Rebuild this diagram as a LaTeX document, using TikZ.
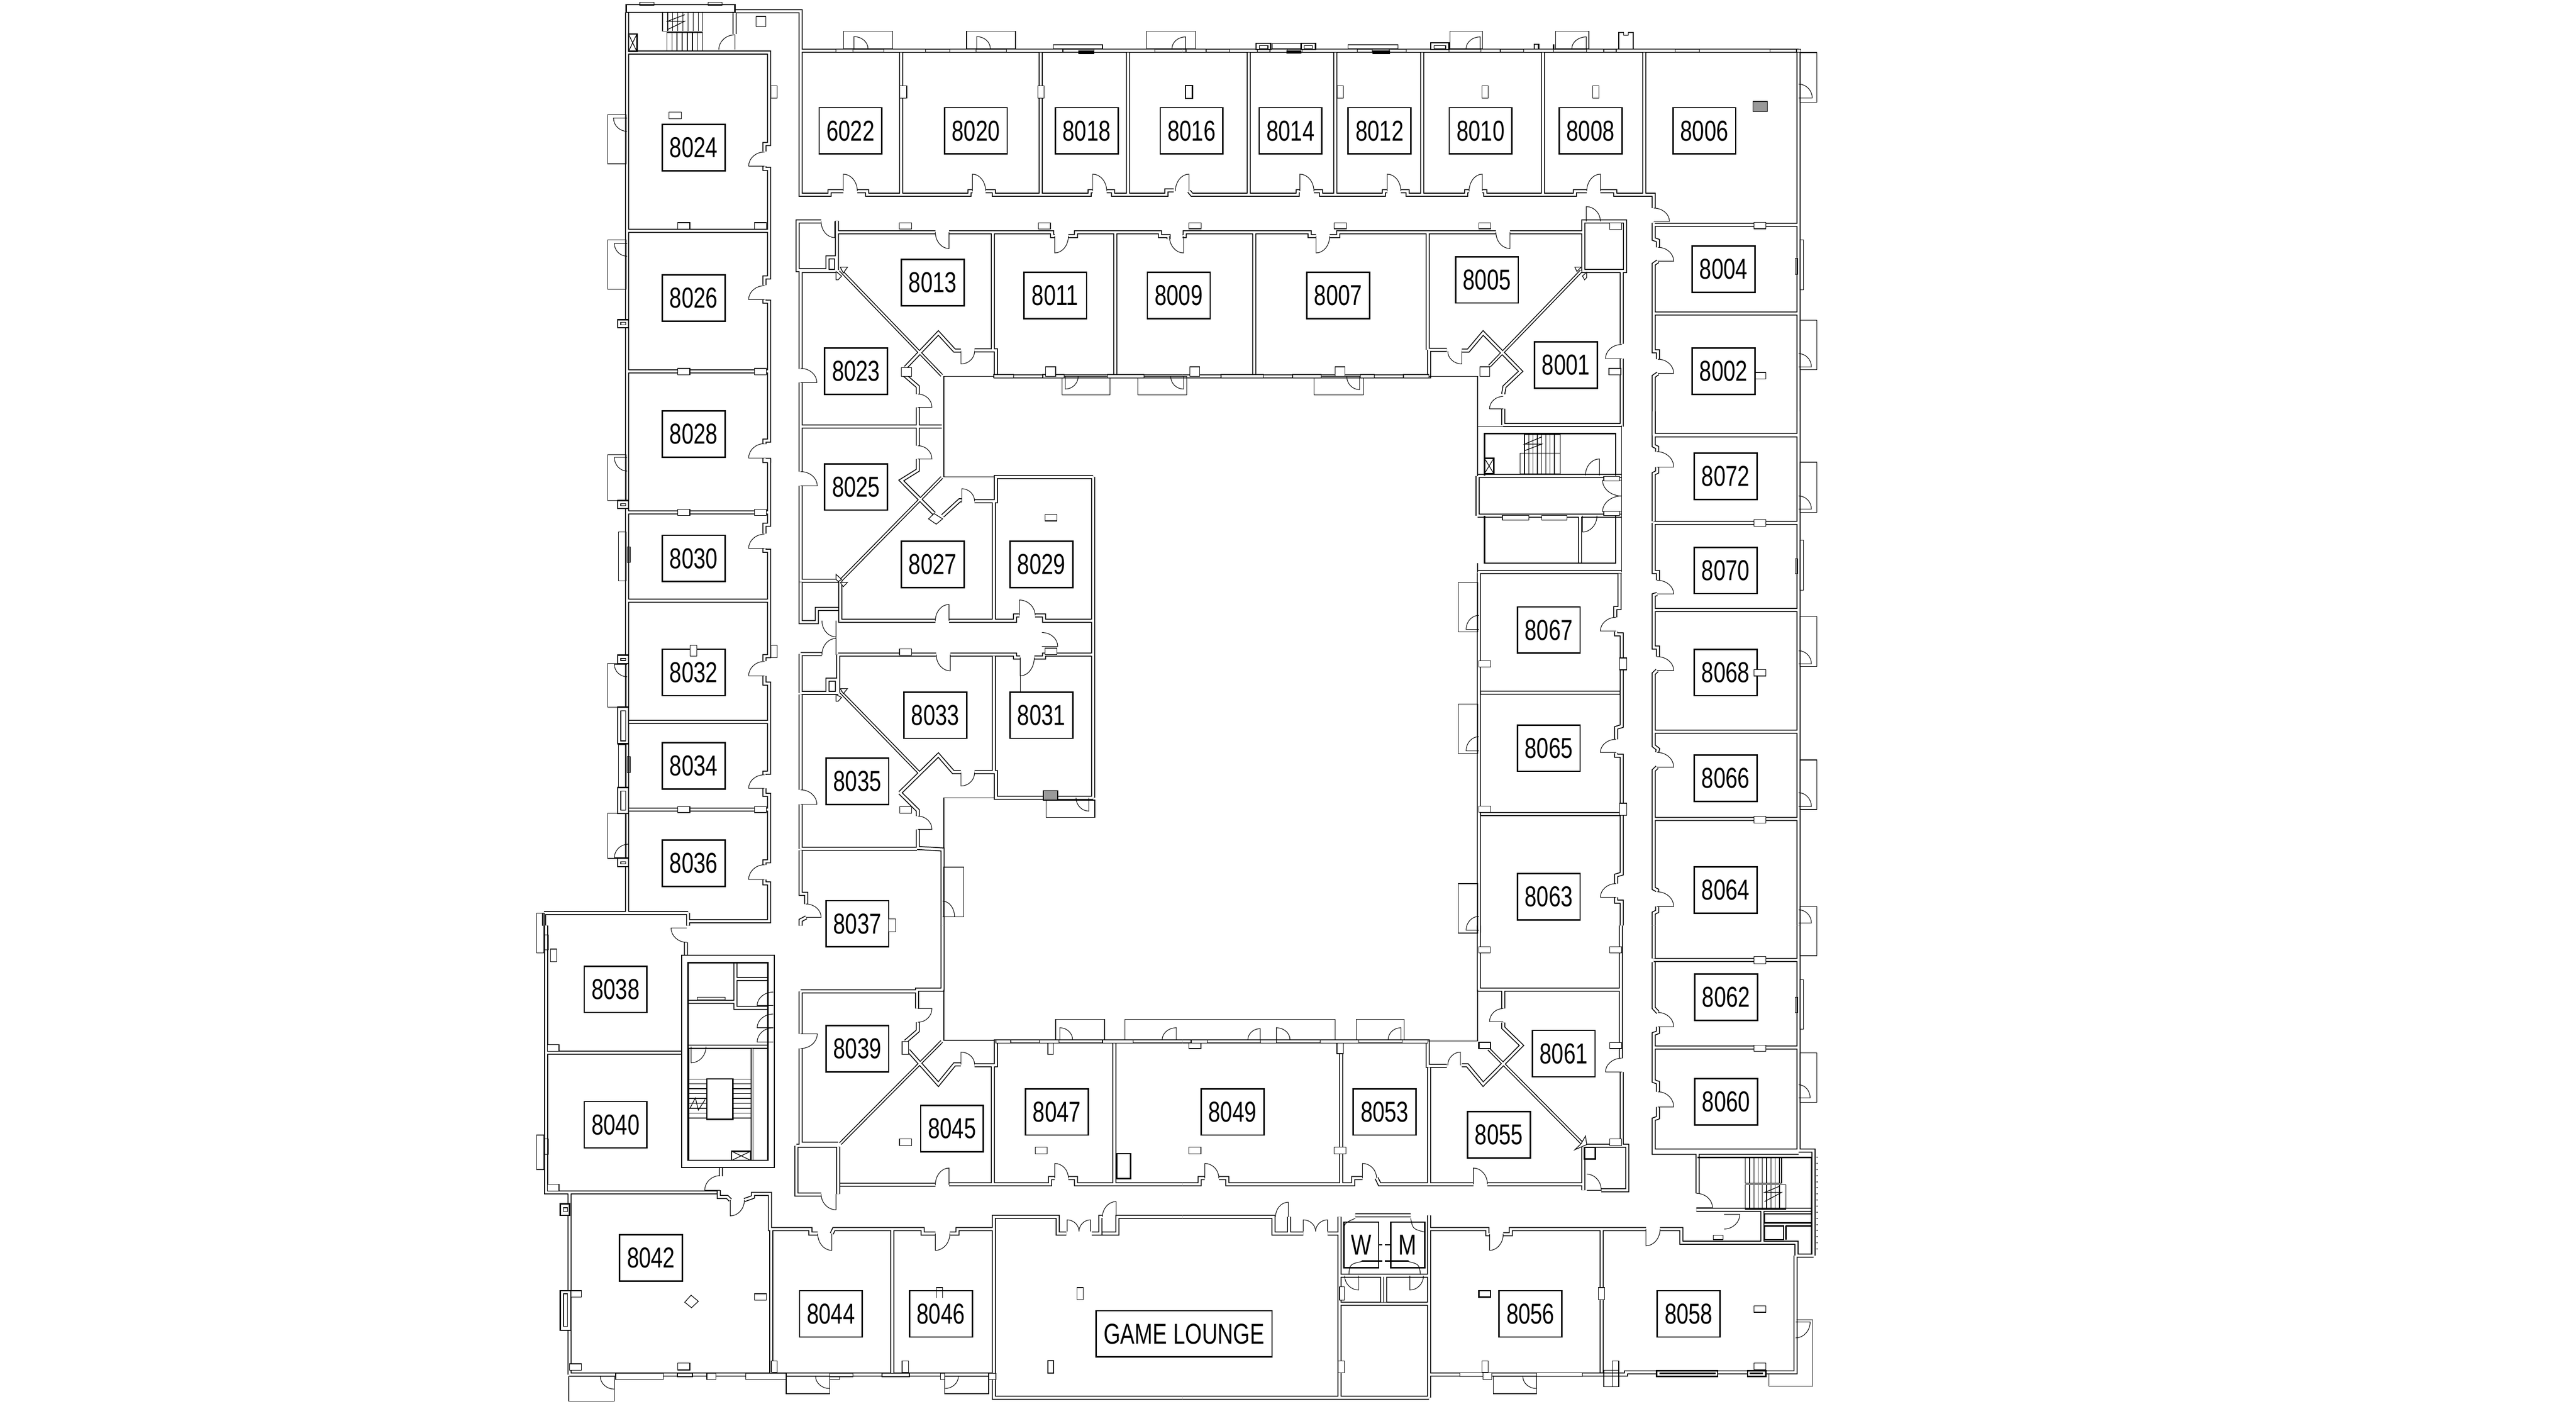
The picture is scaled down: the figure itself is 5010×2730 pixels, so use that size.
\documentclass[tikz,border=0pt]{standalone}
\usepackage{fontspec}
\newfontfamily\lab[FakeStretch=0.75]{Liberation Sans}
\tikzset{
 crA/.style={shift={(1000,0)},x=0.16581pt,y=-0.1148pt},
 crB/.style={shift={(2300,0)},x=0.16581pt,y=-0.1148pt},
 crC/.style={shift={(1000,900)},x=0.16581pt,y=-0.1148pt},
 crD/.style={shift={(2300,800)},x=0.16581pt,y=-0.12755pt},
 crE/.style={shift={(1000,1800)},x=0.16581pt,y=-0.11862pt},
 crF/.style={shift={(2300,1800)},x=0.16581pt,y=-0.11862pt},
 dr/.style={draw=black,line width=0.22pt},
 fine/.style={draw=black,line width=0.25pt},
 med/.style={draw=black,line width=0.5pt},
 lbl/.style={draw=black,fill=white,line width=0.55pt,minimum width=24.4pt,minimum height=18pt,inner sep=0pt,font=\lab\fontsize{11.2}{12}\selectfont},
}
\newcommand\dvv[4]{\draw[dr] (#1,#2) -- (#1,#3) .. controls ({#1+0.55*(#4-(#1))},#3) and (#4,{#2+0.55*(#3-(#2))}) .. (#4,#2);}
\newcommand\dhh[4]{\draw[dr] (#1,#2) -- (#3,#2) .. controls (#3,{#2+0.55*(#4-(#2))}) and ({#1+0.55*(#3-(#1))},#4) .. (#1,#4);}
\newcommand\rrb[4]{\draw[fine,fill=white] (#1,#2) rectangle (#3,#4);}
\newcommand\rab[4]{\draw[fine] (#1,#2) rectangle (#3,#4);}
\newcommand\lbb[3]{\node[lbl] (r#1) at (#2,#3) {#1};}
\newcommand\wallpaths{%
\begin{scope}[crA]
\path[wl] (265,42)--(265,183) (265,178)--(518,178) (517,42)--(517,115)
 (518,38)--(672,38)--(672,172)--(1568,172) (672,172)--(672,660)--(740,660)--(740,648)--(772,648)
 (805,648)--(828,648)--(828,660)--(1068,660)--(1068,648)--(1075,648) (1106,648)--(1125,648)--(1125,660)--(1350,660)--(1350,648)--(1357,648)
 (1390,648)--(1405,648)--(1405,660)--(1530,660)--(1530,645)--(1547,645)
 (518,178)--(598,178)--(598,488)--(587,488)--(587,513) (587,563)--(587,572)--(598,572)--(598,940)--(587,940)--(587,966)
 (587,1015)--(587,1022)--(598,1022)--(598,1493)--(587,1493)--(587,1505) (587,1552)--(587,1562)--(598,1562)--(598,1568)
 (265,183)--(265,1568) (265,782)--(598,782) (265,1258)--(598,1258)
 (908,172)--(908,660) (1235,172)--(1235,660) (1440,172)--(1440,660)
 (720,750)--(665,750)--(665,915)--(735,915)--(735,872)--(755,872)--(755,915) (757,748)--(757,915)
 (757,787)--(988,787) (1020,787)--(1262,787)--(1262,800)--(1268,800) (1300,800)--(1318,800)--(1318,787)--(1515,787)--(1515,800)--(1535,800)--(1535,810)
 (1123,787)--(1123,1185) (1410,787)--(1410,1275)
 (672,918)--(760,918) (672,918)--(672,1250) (672,1296)--(672,1568)
 (947,1335)--(947,1310)--(915,1270) (918,1245)--(995,1128)--(1033,1188)--(1048,1188) (1080,1187)--(1130,1187)--(1130,1275)--(1568,1275)
 (947,1380)--(947,1440) (947,1555)--(947,1568) (672,1445)--(1003,1445) (947,1440)--(947,1510);
\path[dg] (765,915)--(1003,1272);
\end{scope}
\begin{scope}[crB]
\path[wl] (0,172)--(1445,172) (15,648)--(22,660)--(270,660)--(270,648)--(275,648) (308,648)--(325,648)--(325,660)--(472,660)--(472,648)--(480,648)
 (512,648)--(528,648)--(528,660)--(665,660)--(665,648)--(672,648) (703,648)--(710,648)--(710,660)--(920,660)--(920,648)--(948,648)
 (980,648)--(1015,648)--(1015,660)--(1105,660)--(1105,705)
 (155,172)--(155,660) (358,172)--(358,660) (562,172)--(562,660) (845,172)--(845,660) (1083,172)--(1083,660)
 (1105,762)--(1445,762) (1105,755)--(1105,810)--(1115,815)--(1115,838) (1115,885)--(1105,895)--(1105,1062) (1105,1062)--(1445,1062)
 (1105,1062)--(1105,1190)--(1115,1190)--(1115,1217) (1115,1265)--(1105,1275)--(1105,1475) (1105,1475)--(1445,1475)
 (1445,172)--(1445,1568)
 (0,800)--(5,800)--(5,787)--(298,787)--(298,800)--(313,800) (345,800)--(365,800)--(365,787)--(735,787) (768,787)--(940,787)
 (168,787)--(168,1275) (575,787)--(575,1185) (0,1275)--(578,1275)--(578,1185)--(620,1185)
 (655,1188)--(670,1188)--(705,1128)--(793,1258)--(755,1310)--(752,1335) (752,1385)--(752,1440) (752,1440)--(1030,1440)
 (940,787)--(940,750)--(1038,750)--(1038,918)--(940,918)--(940,787)
 (1030,918)--(1030,1165) (1030,1215)--(1030,1445);
\path[dg] (935,918)--(720,1240);
\end{scope}
\begin{scope}[crC]
\path[wl] (587,-10)--(598,-10)--(598,210)--(587,210)--(587,240) (587,290)--(587,298)--(598,298)--(598,655)--(587,655)--(587,672)
 (587,722)--(587,748)--(598,748)--(598,1050)--(587,1050)--(587,1057) (587,1103)--(587,1125)--(598,1125)--(598,1350)--(587,1350)--(587,1362)
 (587,1412)--(587,1425)--(598,1425)--(598,1553)--(408,1553) (408,1525)--(408,1568) (70,1525)--(408,1525) (70,1525)--(70,1568)
 (265,0)--(265,1525) (265,168)--(598,168) (265,467)--(598,467) (265,878)--(598,878) (265,1175)--(598,1175)
 (672,0)--(672,30) (672,78)--(672,400)--(760,400) (672,405)--(672,540)--(710,540)--(710,495)--(760,495) (947,0)--(947,25)--(908,60)--(985,172)
 (1005,180)--(1045,127)--(1050,127) (1080,130)--(1130,130)--(1130,48)--(1358,48) (1358,48)--(1358,1135) (1125,130)--(1125,535)
 (765,400)--(765,535)--(988,535) (1020,535)--(1175,535)--(1175,517)--(1185,517) (1222,517)--(1243,517)--(1243,535)--(1358,535)
 (760,650)--(990,650) (1023,650)--(1175,650)--(1175,660)--(1187,660) (1220,660)--(1243,660)--(1243,650)--(1358,650)
 (672,648)--(722,648) (672,648)--(672,780) (672,780)--(760,780) (735,780)--(735,735)--(757,735)--(757,780) (760,650)--(760,780)
 (672,785)--(672,1108) (672,1157)--(672,1308) (672,1308)--(945,1308)
 (905,1118)--(995,990)--(1030,1048)--(1048,1048) (1080,1048)--(1130,1048)--(1130,1135)--(1358,1135) (1125,655)--(1125,1045)
 (905,1118)--(947,1178)--(947,1197) (947,1242)--(947,1305)--(1005,1310)--(1005,1568)
 (672,1313)--(672,1460)--(685,1460)--(685,1495) (685,1540)--(672,1550)--(672,1568);
\path[dg] (1003,50)--(765,400) (765,775)--(950,1050);
\end{scope}
\begin{scope}[crD]
\path[wl] (692,197)--(1030,197) (692,197)--(692,318) (692,318)--(1030,318) (932,318)--(932,463) (692,490)--(1030,490)
 (695,490)--(695,1590) (1025,495)--(1025,600)--(1015,600)--(1015,628) (1017,672)--(1017,680)--(1030,680)--(1030,960)--(1017,965)--(1017,1000)
 (1017,1042)--(1017,1050)--(1030,1050)--(1030,1410)--(1017,1415)--(1017,1440) (1017,1482)--(1017,1495)--(1030,1495)--(1030,1568)
 (700,858)--(1025,858) (700,1228)--(1025,1228)
 (1105,0)--(1105,105)--(1113,110)--(1113,123) (1113,170)--(1113,185)--(1105,190)--(1105,335) (1105,340)--(1445,340)
 (1105,340)--(1105,490)--(1115,490)--(1115,515) (1113,557)--(1105,560)--(1105,606) (1105,606)--(1445,606)
 (1105,606)--(1105,720)--(1115,720)--(1115,748) (1113,790)--(1105,800)--(1105,977) (1105,977)--(1445,977)
 (1105,977)--(1105,1020)--(1115,1030)--(1113,1040) (1113,1085)--(1105,1095)--(1105,1243) (1105,1243)--(1445,1243)
 (1105,1243)--(1105,1455)--(1113,1460)--(1113,1465) (1113,1510)--(1113,1525)--(1105,1530)--(1105,1568) (1445,0)--(1445,1568)
 (1105,72)--(1445,72);
\end{scope}
\begin{scope}[crE]
\path[wl] (75,0)--(75,875)--(130,875)--(130,1472) (75,417)--(393,417) (75,875)--(475,875)
 (403,55)--(403,97) (485,793)--(485,822) (480,868)--(480,890)--(500,890)--(507,900) (540,900)--(560,890)--(560,880)--(600,880)--(600,995)--(695,995)--(695,1010)--(712,1010)
 (745,1010)--(750,995)--(958,995)--(958,1010)--(988,1010) (1022,1010)--(1040,1010)--(1040,995)--(1125,995)--(1125,955)--(1275,955)--(1275,1010)--(1295,1010)
 (1355,1010)--(1375,1010)--(1375,955)--(1380,955) (1380,1010)--(1415,1010)--(1415,955)--(1568,955)
 (603,995)--(603,1470) (887,995)--(887,1470) (1125,995)--(1125,1548)--(1568,1548) (130,1472)--(1125,1472)
 (672,216)--(945,216) (672,216)--(672,355) (672,403)--(672,715)--(760,715) (1005,0)--(1005,210)--(945,210)--(945,272) (947,317)--(947,345)--(918,380)
 (925,410)--(995,520)--(1033,455)--(1048,455) (1080,458)--(1130,458)--(1130,380)--(1568,380) (1123,458)--(1123,848) (1408,380)--(1408,848)
 (662,722)--(760,722) (662,722)--(662,882)--(720,882) (760,725)--(760,880) (765,850)--(988,850) (1020,848)--(1257,848)--(1257,828)--(1268,828) (1300,828)--(1318,828)--(1318,848)--(1568,848)
 (519,122)--(519,250)--(408,250) (519,175)--(595,175) (519,250)--(519,270)--(595,270) (408,397)--(595,397);
\path[dg] (1003,380)--(765,715);
\end{scope}
\begin{scope}[crF]
\path[wl] (0,380)--(575,380)--(575,460)--(620,460) (655,458)--(668,458)--(705,520)--(795,393)--(752,335)--(752,318) (752,272)--(752,210)--(695,210)--(695,0)
 (940,868)--(940,722)--(1043,722)--(1043,868)--(982,868) (0,848)--(40,848)--(40,828)--(52,828) (85,828)--(105,828)--(105,848)--(400,848)--(400,828)--(422,828)
 (455,828)--(462,848)--(682,848) (715,848)--(940,848) (372,385)--(372,848) (578,465)--(578,848) (755,210)--(1028,210)
 (1028,0)--(1028,435) (1030,480)--(1030,722)
 (1105,0)--(1105,108) (1105,113)--(1445,113) (1105,120)--(1105,270)--(1115,285) (1115,332)--(1115,350)--(1105,355)--(1105,400) (1105,400)--(1445,400)
 (1105,400)--(1105,510)--(1115,515)--(1115,545) (1115,595)--(1115,630)--(1105,635)--(1105,745)--(1445,745) (1445,0)--(1445,735)
 (0,955)--(213,955)--(213,1010)--(250,1010)--(250,955) (250,1010)--(283,1010) (340,1010)--(368,1010)--(368,955)
 (368,955)--(368,1548) (578,950)--(578,1548) (405,950)--(535,950) (368,1148)--(578,1148) (368,1240)--(578,1240) (468,1148)--(468,1235) (475,1148)--(475,1235)
 (0,1548)--(578,1548) (578,995)--(715,995)--(715,1012)--(720,1012) (752,1012)--(770,1012)--(770,995)--(1087,995) (1120,995)--(1170,995)--(1170,1040)--(1440,1040)--(1440,1082)--(1480,1082)
 (1438,1082)--(1438,1465)--(1040,1465)--(1040,1472)--(578,1472) (983,995)--(983,1465)
 (1208,738)--(1480,738)--(1480,1082) (1208,738)--(1208,878) (1205,932)--(1475,932) (1360,932)--(1360,1040)
 (1105,738)--(1208,738);
\path[dg] (718,405)--(940,718);
\end{scope}
}
\begin{document}
\begin{tikzpicture}[x=0.2pt,y=-0.2pt,line join=miter]
\fill[white] (0,0) rectangle (5010,2730);
\useasboundingbox (0,0) rectangle (5010,2730);
% passes for the walls
\begin{scope}[wl/.style={draw=black,line width=1.55pt},dg/.style={draw=black,line width=1.25pt}]
\wallpaths
\end{scope}
\begin{scope}[wl/.style={draw=white,line width=0.85pt},dg/.style={draw=white,line width=0.6pt}]
\wallpaths
\end{scope}
% crop A details
\begin{scope}[crA]
\draw[med] (263,16) rectangle (518,42);
\rab{295}{8}{328}{18} \rab{455}{8}{488}{18}
\draw[fine] (348,42) rectangle (442,105);
\draw[fine] (358,110) rectangle (442,172);
\foreach \u in {360,372,...,436}{\draw[fine] (\u,42)--(\u,105);}
\foreach \u in {370,382,...,436}{\draw[fine] (\u,110)--(\u,172);}
\draw[fine] (360,100)--(400,72)--(360,72)--(400,50);
\draw[med] (268,115) rectangle (288,175);
\draw[fine] (268,115)--(288,175) (288,115)--(268,175);
\rab{567}{56}{590}{90}
\dvv{518}{168}{118}{480}
\dhh{587}{563}{550}{515} \dhh{587}{1015}{550}{968} \dhh{587}{1552}{550}{1503}
\rrb{602}{291}{617}{333} \rrb{363}{380}{392}{402} \rrb{384}{754}{412}{776} \rrb{564}{754}{592}{776}
\rrb{384}{1248}{412}{1270} \rrb{564}{1248}{592}{1270}
\rab{219}{388}{263}{555} \dhh{265}{400}{233}{445}
\rab{219}{812}{263}{980} \dhh{265}{825}{235}{868}
\draw[med,fill=white] (243,1083) rectangle (268,1110); \rab{250}{1092}{262}{1100}
\rab{773}{106}{888}{165} \dvv{797}{165}{124}{830}
\rab{1061}{106}{1176}{165} \dvv{1085}{165}{124}{1117}
\rab{1265}{152}{1380}{165}
\rab{1483}{106}{1598}{165} \dvv{1575}{165}{125}{1543}
\foreach \a/\b in {755/795,867/965,1022/1083,1155/1287,1360/1503}{\draw[fine,fill=white] (\a,167) rectangle (\b,177);}
\draw[fill=black] (1325,172) rectangle (1360,182);
\rrb{905}{291}{921}{333} \rrb{1228}{291}{1243}{333}
\dvv{772}{648}{590}{805} \dvv{1075}{648}{590}{1106} \dvv{1357}{648}{590}{1390} \dvv{1570}{800}{857}{1537}
\dvv{752}{750}{805}{720} \dvv{1020}{787}{842}{988} \dvv{1268}{800}{857}{1300}
\dhh{672}{1296}{710}{1248} \dvv{1048}{1190}{1233}{1080} \dhh{947}{1380}{980}{1335} \dhh{947}{1555}{980}{1510}
\rrb{903}{755}{932}{776} \rrb{1230}{755}{1258}{776}
\rrb{908}{1245}{932}{1275}
\draw[fine,fill=white] (765,905)--(782,905)--(772,925)--cycle (755,920)--(768,935)--(760,948)--(755,948)--cycle;
\draw[fine] (1008,1275)--(1125,1275) (1008,1275)--(1008,1568);
\rab{1285}{1275}{1398}{1338} \dvv{1293}{1275}{1318}{1323}
\rab{1463}{1275}{1578}{1338} \dvv{1570}{1275}{1318}{1540}
\foreach \a/\b in {1125/1172,1240/1290,1392/1477}{\draw[fine,fill=white] (\a,1269) rectangle (\b,1280);}
\rrb{1247}{1243}{1270}{1275}
\lbb{6022}{789}{443} \lbb{8020}{1083}{443} \lbb{8018}{1343}{443} \lbb{8024}{421}{500} \lbb{8026}{421}{1010} \lbb{8028}{421}{1471}
\lbb{8013}{982}{957} \lbb{8011}{1269}{1001} \lbb{8023}{802}{1258}
\end{scope}
% crop B details
\begin{scope}[crB]
\foreach \a/\b in {8/55,110/175,205/245,280/410,445/485,525/625,700/745,800/870,948/988,1017/1155,1212/1378,1440/1450}{\draw[fine,fill=white] (\a,167) rectangle (\b,177);}
\draw[med,fill=white] (172,147) rectangle (207,168); \rab{180}{155}{200}{165}
\draw[med,fill=white] (278,147) rectangle (312,168); \rab{285}{155}{305}{165}
\draw[med,fill=white] (582,145) rectangle (625,168); \rab{590}{155}{617}{165}
\rab{210}{147}{278}{165} \rab{388}{152}{505}{165}
\draw[fill=black] (245,172) rectangle (278,180); \draw[fill=black] (447,172) rectangle (485,182);
\rab{627}{106}{703}{165} \dvv{698}{165}{125}{665}
\rab{875}{106}{953}{165} \dvv{947}{165}{125}{913}
\draw[med] (825,168)--(825,150)--(835,150)--(835,168) (870,168)--(870,150);
\draw[fine] (1023,165)--(1023,110)--(1035,110)--(1035,120)--(1045,120)--(1045,110)--(1057,110)--(1057,165);
\dvv{15}{648}{590}{-17} \dvv{275}{648}{590}{308} \dvv{480}{648}{590}{512} \dvv{703}{648}{590}{672} \dvv{980}{648}{590}{948}
\dhh{1105}{750}{1142}{705}
\dhh{1115}{885}{1152}{838} \dhh{1115}{1265}{1152}{1217}
\rrb{1340}{753}{1368}{775}
\rab{1448}{178}{1488}{346} \dhh{1445}{332}{1477}{285}
\rab{1448}{812}{1456}{982} \rab{1437}{875}{1443}{930}
\rab{1448}{1085}{1488}{1253} \dhh{1445}{1243}{1475}{1198}
\draw[fine,fill=gray!80] (1338,344) rectangle (1372,378);
\draw[med,fill=white] (7,290) rectangle (23,333);
\rrb{362}{291}{377}{333} \rrb{702}{291}{717}{333} \rrb{962}{291}{977}{333} \rrb{1340}{1262}{1368}{1284}
\rrb{1002}{755}{1030}{778} \rrb{1000}{1248}{1028}{1270}
\rrb{15}{755}{44}{775} \rrb{355}{755}{384}{775} \rrb{695}{755}{723}{775} \rrb{17}{1243}{40}{1275} \rrb{358}{1243}{381}{1275} \rrb{697}{1243}{720}{1275}
\draw[fine,fill=white] (920,905)--(935,905)--(925,920)--cycle (948,922)--(938,935)--(943,948)--(948,940)--cycle;
\dvv{313}{800}{857}{345} \dvv{768}{787}{842}{735} \dvv{947}{750}{700}{980}
\dvv{655}{1190}{1233}{622} \dhh{752}{1385}{720}{1343} \dhh{1030}{1215}{992}{1167}
\rab{308}{1275}{424}{1338} \dvv{415}{1275}{1320}{385}
\foreach \a/\b in {90/190,258/325,417/450,518/578}{\draw[fine,fill=white] (\a,1269) rectangle (\b,1280);}
\draw[fine] (578,1275)--(692,1275)--(692,1445)--(1030,1445);
\lbb{8016}{21}{443} \lbb{8009}{-9}{1001} \lbb{8014}{253}{443} \lbb{8012}{462}{443} \lbb{8010}{699}{443} \lbb{8008}{957}{443} \lbb{8006}{1224}{443}
\lbb{8007}{365}{1001} \lbb{8005}{714}{948} \lbb{8001}{899}{1237} \lbb{8004}{1269}{912} \lbb{8002}{1269}{1258}
\end{scope}
% crop C details
\begin{scope}[crC]
\rab{219}{-28}{263}{128} \dhh{265}{-18}{235}{28}
\rab{245}{234}{263}{400} \rab{265}{285}{272}{338}
\rab{219}{680}{263}{828} \dhh{265}{683}{235}{725}
\rab{245}{955}{263}{1100} \rab{265}{995}{272}{1050}
\rab{219}{1188}{263}{1340} \dhh{268}{1338}{235}{1292}
\foreach \a/\b in {128/155,652/680,1340/1368}{\draw[med,fill=white] (243,\a) rectangle (268,\b); \rab{250}{\a+11}{262}{\a+18}}
\draw[med,fill=white] (243,828) rectangle (268,952); \rab{250}{840}{262}{942}
\draw[med,fill=white] (243,1100) rectangle (268,1188); \rab{250}{1112}{262}{1177}
\rrb{384}{157}{412}{178} \rrb{564}{157}{592}{178} \rrb{384}{1165}{412}{1185} \rrb{564}{1165}{592}{1185}
\rrb{602}{618}{617}{660}
\dhh{587}{290}{550}{242} \dhh{587}{722}{550}{673} \dhh{587}{1103}{550}{1057} \dhh{587}{1412}{550}{1362}
\dhh{672}{78}{711}{30}
\dvv{1050}{130}{88}{1080}
\draw[fine] (972,190)--(985,172)--(1005,190)--(990,208)--cycle;
\draw[fine] (1008,0)--(1008,48)--(1125,48);
\rrb{1245}{175}{1273}{197} \rrb{904}{630}{932}{652} \rrb{1245}{628}{1273}{650} \rrb{905}{1165}{932}{1187}
\draw[fine,fill=white] (755,378)--(768,395)--(760,402)--(755,395)--cycle (765,405)--(782,405)--(772,420)--cycle;
\draw[fine,fill=white] (765,765)--(782,765)--(772,782)--cycle (755,785)--(768,795)--(760,808)--(755,808)--cycle;
\dvv{1020}{535}{480}{988} \dvv{1185}{517}{465}{1222} \dhh{1238}{622}{1275}{575}
\dvv{1023}{650}{705}{990} \dvv{1187}{660}{722}{1220}
\dvv{755}{535}{590}{722} \dvv{755}{650}{595}{722}
\draw[fine] (755,540)--(755,650) (1187,722)--(1187,775);
\dhh{672}{1157}{710}{1108} \dvv{1048}{1050}{1095}{1080} \dhh{947}{1242}{980}{1197}
\draw[fine] (1008,1135)--(1125,1135) (1008,1135)--(1008,1305);
\draw[fine,fill=gray!80] (1241,1110) rectangle (1275,1143);
\dvv{1348}{1135}{1180}{1318} \rab{1248}{1143}{1362}{1202}
\rab{1008}{1370}{1054}{1538} \dhh{1005}{1538}{1033}{1485}
\dhh{685}{1540}{720}{1495}
\lbb{8025}{802}{82} \lbb{8027}{982}{344} \lbb{8029}{1237}{344} \lbb{8030}{421}{324} \lbb{8032}{421}{710} \lbb{8034}{421}{1027} \lbb{8036}{421}{1357} \lbb{8033}{988}{855} \lbb{8031}{1237}{855} \lbb{8035}{805}{1079}
\rrb{413}{618}{428}{655}
\end{scope}
% crop D details
\begin{scope}[crD]
\draw[fine] (692,43)--(692,197) (1030,43)--(1030,490);
\draw[med] (708,195)--(708,68)--(1016,68)--(1016,195);
\draw[fine] (802,70) rectangle (886,128);
\draw[fine] (792,128) rectangle (886,190);
\foreach \u in {812,822,...,880}{\draw[fine] (\u,70)--(\u,128);}
\foreach \u in {802,812,...,880}{\draw[fine] (\u,128)--(\u,190);}
\draw[fine] (802,120)--(842,100)--(802,100)--(842,78);
\draw[med] (708,143) rectangle (730,190); \draw[fine] (708,143)--(730,190) (730,143)--(708,190);
\dvv{978}{195}{145}{945} \dhh{1030}{210}{985}{258} \dhh{1030}{306}{985}{258}
\rrb{988}{198}{1025}{212} \rrb{988}{305}{1025}{318}
\draw[med] (708,318)--(708,463)--(1016,463)--(1016,318);
\rrb{750}{318}{812}{332} \rrb{842}{318}{902}{332}
\dvv{938}{318}{368}{972}
\draw[fine] (692,463)--(692,490);
\rab{647}{522}{692}{673} \dhh{695}{665}{665}{622}
\rab{647}{892}{692}{1043} \dhh{695}{1035}{665}{992}
\rab{647}{1440}{692}{1591} \dhh{695}{1582}{665}{1540}
\dhh{1017}{670}{980}{628} \dhh{1017}{1040}{980}{1000} \dhh{1017}{1482}{980}{1440}
\rrb{695}{760}{723}{780} \rrb{1025}{752}{1042}{788} \rrb{695}{1204}{723}{1223} \rrb{1025}{1195}{1042}{1232}
\dhh{1113}{170}{1152}{123} \dhh{1113}{557}{1152}{515} \dhh{1113}{790}{1152}{748} \dhh{1113}{1085}{1152}{1040} \dhh{1113}{1510}{1152}{1465}
\rrb{1340}{330}{1368}{350} \rrb{1340}{1235}{1368}{1255}
\rab{1448}{155}{1488}{308} \dhh{1445}{298}{1475}{258}
\rab{1448}{393}{1456}{545} \rab{1437}{450}{1443}{495}
\rab{1448}{625}{1488}{778} \dhh{1445}{770}{1475}{730}
\rab{1448}{1063}{1488}{1214} \dhh{1445}{1205}{1475}{1163}
\rab{1448}{1510}{1488}{1660} \dhh{1445}{1560}{1475}{1520}
\lbb{8072}{1274}{198} \lbb{8070}{1274}{485} \lbb{8067}{859}{667} \lbb{8065}{859}{1027} \lbb{8068}{1274}{796} \lbb{8066}{1274}{1119} \lbb{8063}{859}{1480} \lbb{8064}{1274}{1460}
\rrb{1340}{787}{1368}{807}
\end{scope}
% crop E details
\begin{scope}[crE]
\dhh{405}{8}{368}{55}
\draw[med] (393,97) rectangle (610,793);
\draw[med] (408,122) rectangle (595,770);
\rrb{430}{235}{495}{243}
\dhh{608}{262}{570}{218} \dhh{608}{335}{570}{290} \dhh{608}{382}{570}{335}
\dvv{415}{397}{450}{450}
\draw[fine] (410,403) rectangle (556,770) (560,403) rectangle (595,770);
\draw[med,fill=white] (452,503) rectangle (513,635);
\foreach \v in {503,519,...,635}{\draw[fine] (410,\v)--(452,\v) (513,\v)--(555,\v);}
\draw[fine] (412,600)--(425,565)--(432,605)--(448,570);
\draw[med] (510,740) rectangle (555,770); \draw[fine] (510,740)--(555,770) (555,740)--(510,770);
\rab{53}{-40}{70}{90} \rab{72}{30}{80}{80}
\rab{53}{687}{70}{800} \rab{72}{700}{80}{750}
\rrb{85}{77}{100}{118} \rrb{78}{390}{105}{412} \rrb{78}{848}{105}{870}
\dhh{483}{868}{447}{820}
\dvv{507}{900}{952}{540} \dvv{745}{1010}{1065}{712} \dvv{988}{1010}{1065}{1022}
\dvv{1297}{1003}{965}{1325} \dvv{1352}{1003}{965}{1325} \dvv{1412}{955}{905}{1380}
\draw[med,fill=white] (108,912) rectangle (130,950); \rab{115}{925}{125}{938}
\draw[med,fill=white] (108,1197) rectangle (133,1327); \rab{116}{1207}{125}{1315}
\rrb{133}{1197}{158}{1218}
\rrb{130}{1437}{158}{1458} \rrb{384}{1435}{412}{1457} \rrb{564}{1207}{592}{1228}
\draw[fine] (415,1212)--(432,1232)--(416,1253)--(400,1235)--cycle;
\rrb{603}{1427}{617}{1465} \rrb{910}{1427}{925}{1465}
\foreach \a/\b in {238/350,452/473,543/638,740/763,1000/1010,1113/1130}{\draw[fine,fill=white] (\a,1468) rectangle (\b,1488);}
\foreach \a/\b in {383/418,740/795,863/927}{\draw[fine,fill=white] (\a,1468) rectangle (\b,1479);}
\rab{128}{1478}{235}{1560} \dvv{235}{1478}{1520}{202}
\rab{638}{1478}{740}{1535} \dvv{740}{1478}{1518}{707}
\rab{1010}{1478}{1113}{1535} \dvv{1010}{1478}{1518}{1042}
\rrb{1320}{1187}{1335}{1227} \draw[med,fill=white] (1252,1427) rectangle (1265,1467);
\dhh{672}{355}{711}{403} \dhh{947}{272}{980}{317} \rrb{910}{380}{925}{422} \dvv{1048}{455}{415}{1080}
\draw[fine] (1008,210)--(1008,376)--(1125,376);
\dvv{755}{880}{932}{720} \dvv{1020}{850}{795}{988} \dvv{1268}{828}{780}{1300}
\draw[med] (1414,748) rectangle (1446,830);
\rrb{904}{700}{932}{722} \rrb{1222}{727}{1250}{748} \rrb{1252}{383}{1265}{422}
\rab{1270}{308}{1385}{375} \dvv{1280}{375}{335}{1310}
\rab{1433}{308}{1926}{375} \dvv{1553}{375}{335}{1520}
\foreach \a/\b in {1130/1165,1232/1278,1380/1452}{\draw[fine,fill=white] (\a,375) rectangle (\b,385);}
\lbb{8037}{805}{-6}\rrb{878}{-22}{895}{20}
\lbb{8038}{238}{209} \lbb{8040}{238}{653} \lbb{8039}{805}{404} \lbb{8045}{1027}{666} \lbb{8047}{1273}{611} \lbb{8042}{321}{1090} \lbb{8044}{743}{1273} \lbb{8046}{1001}{1273}
\draw[fine] (990,1220)--(990,1187)--(1005,1187)--(1005,1220);
\end{scope}
% crop F details
\begin{scope}[crF]
\dvv{182}{375}{338}{153} \dvv{220}{375}{335}{252}
\rab{407}{308}{520}{375} \dvv{512}{375}{335}{482}
\foreach \a/\b in {20/58,183/220,323/413,515/575}{\draw[fine,fill=white] (\a,375) rectangle (\b,385);}
\rrb{15}{385}{43}{403} \rrb{15}{727}{43}{748} \rrb{355}{727}{383}{748} \rrb{362}{385}{377}{420}
\dvv{652}{458}{415}{622} \dhh{752}{315}{720}{272} \draw[med,fill=white] (695,383) rectangle (722,403);
\draw[fine,fill=white] (920,735)--(935,715)--(945,690)--(948,718)--cycle;
\dhh{948}{868}{982}{815} \draw[med] (943,727) rectangle (968,765);
\dvv{52}{828}{780}{85} \dvv{422}{828}{780}{455} \dvv{682}{848}{795}{715}
\rrb{1002}{70}{1030}{90} \rrb{1002}{383}{1030}{403} \rrb{1002}{700}{1030}{722} \rrb{695}{70}{722}{90}
\dhh{1030}{480}{992}{435}
\draw[fine] (575,378)--(692,378)--(692,210);
\dhh{1115}{332}{1152}{285} \dhh{1115}{595}{1152}{545}
\rrb{1340}{102}{1368}{125} \rrb{1340}{392}{1368}{412}
\rab{1448}{178}{1456}{340} \rab{1437}{235}{1443}{285}
\rab{1448}{418}{1488}{580} \dhh{1445}{565}{1472}{522}
\dhh{1205}{925}{1243}{878}
\draw[fine] (1320,762) rectangle (1405,845) (1320,850) rectangle (1415,930);
\foreach \u in {1330,1340,...,1400}{\draw[fine] (\u,762)--(\u,845) (\u,850)--(\u,930);}
\draw[fine] (1365,905)--(1405,875)--(1365,875)--(1400,855);
\draw[med] (1475,760)--(1475,1078) (1208,760)--(1475,760);
\foreach \v in {760,780,...,1060}{\draw[line width=0.4pt] (1487,\v)--(1490,\v);}
\draw[med] (1365,945) rectangle (1475,975);
\draw[med] (1365,985) rectangle (1410,1030);
\draw[med] (1415,985)--(1475,985) (1415,985)--(1415,1030);
\dhh{1270}{947}{1307}{995}
\rrb{1245}{1015}{1268}{1030}
\dvv{720}{1012}{1065}{752} \dvv{1087}{995}{1050}{1120}
\rrb{975}{1187}{990}{1227}
\dvv{248}{955}{907}{218} \dvv{283}{1003}{965}{312} \dvv{340}{1003}{965}{312}
\foreach \a/\b in {650/725,830/938}{\draw[fine,fill=white] (\a,1467) rectangle (\b,1478);}
\rrb{705}{1467}{725}{1488}
\rab{729}{1478}{830}{1535} \dvv{830}{1478}{1518}{798}
\draw[fine] (1008,1428) rectangle (1023,1512) (988,1458) rectangle (1023,1512);
\rrb{702}{1427}{717}{1465} \draw[med,fill=white] (695,1197) rectangle (722,1218); \rrb{1340}{1247}{1368}{1268} \rrb{1340}{1435}{1368}{1457}
\draw[med,fill=white] (1112,1460) rectangle (1255,1478); \draw[line width=0.6pt] (1118,1469)--(1250,1469);
\draw[med,fill=white] (1325,1460) rectangle (1368,1478); \draw[line width=0.6pt] (1330,1469)--(1362,1469);
\draw[fine] (1440,1292)--(1478,1292)--(1478,1510)--(1375,1510)--(1375,1470);
\dhh{1438}{1300}{1472}{1352}
\node[lbl,minimum width=13.6pt,fill=none,minimum height=17.7pt] (rW) at (419,1047) {W};
\node[lbl,minimum width=13.3pt,fill=none,minimum height=17.7pt] (rM) at (528,1047) {M};
\draw[med] (rW.east)--(468,1047) (475,1047)--(rM.west);
\draw[line width=0.6pt] (420,1100)--(468,1100) (475,1100)--(530,1100);
\draw[dr] (378,1000) .. controls (380,975) .. (405,960);
\draw[dr] (535,960) .. controls (540,995) .. (568,1005);
\draw[dr] (390,1145) .. controls (392,1110) .. (425,1100); \draw[dr] (525,1100) .. controls (555,1110) .. (558,1145);
\dvv{413}{1148}{1195}{380} \dvv{533}{1148}{1195}{565}
\rrb{368}{1185}{380}{1228} \rrb{365}{1427}{380}{1467}
\lbb{8049}{117}{611} \lbb{8053}{474}{611} \lbb{8061}{894}{420} \lbb{8055}{742}{686} \lbb{8062}{1275}{235} \lbb{8060}{1275}{578} \lbb{8056}{816}{1273} \lbb{8058}{1187}{1273}
\end{scope}
\node[lbl,minimum width=68.4pt] (rlounge) at (2303,2594) {GAME LOUNGE};
\end{tikzpicture}
\end{document}
